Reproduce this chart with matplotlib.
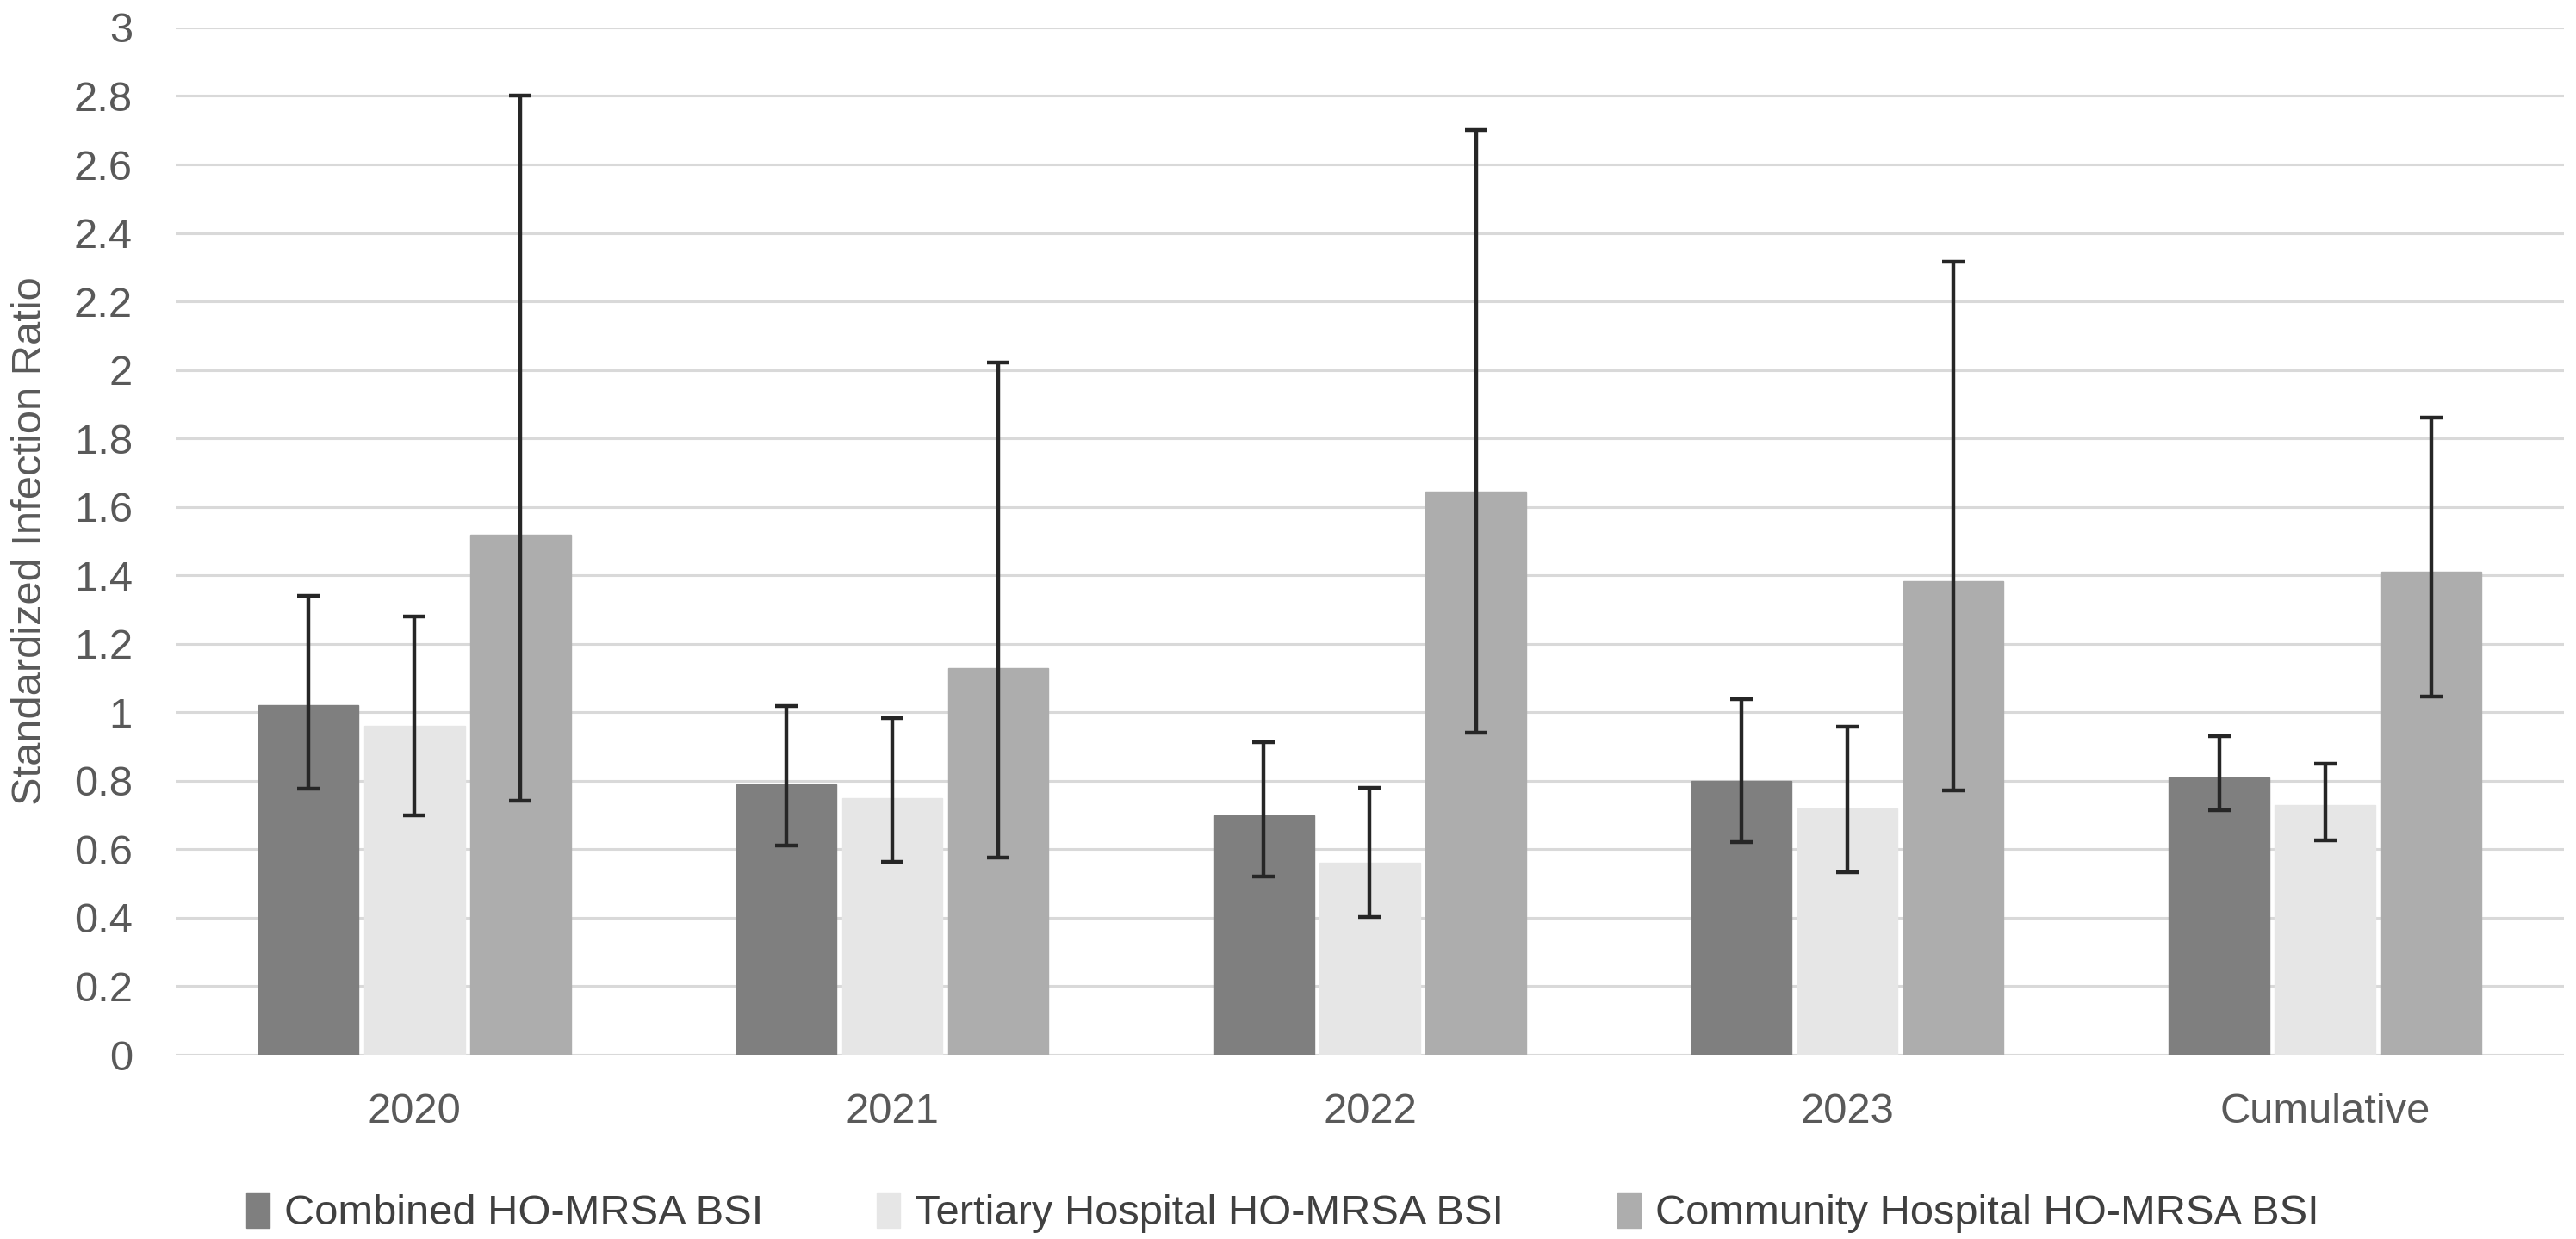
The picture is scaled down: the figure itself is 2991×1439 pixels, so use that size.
import numpy as np
import matplotlib
matplotlib.use("Agg")
import matplotlib.pyplot as plt

plt.rcParams['font.family'] = ['Liberation Sans', 'DejaVu Sans']

categories = ['2020', '2021', '2022', '2023', 'Cumulative']
series = ['Combined HO-MRSA BSI', 'Tertiary Hospital HO-MRSA BSI', 'Community Hospital HO-MRSA BSI']

combined = [1.02, 0.79, 0.70, 0.80, 0.81]
combined_lo = [0.776, 0.612, 0.52, 0.622, 0.713]
combined_hi = [1.34, 1.018, 0.912, 1.038, 0.93]

tertiary = [0.96, 0.75, 0.56, 0.72, 0.73]
tertiary_lo = [0.70, 0.563, 0.403, 0.533, 0.626]
tertiary_hi = [1.28, 0.982, 0.78, 0.959, 0.85]

community = [1.52, 1.13, 1.645, 1.384, 1.41]
community_lo = [0.743, 0.577, 0.94, 0.772, 1.045]
community_hi = [2.80, 2.022, 2.70, 2.315, 1.861]

colors = ['#7f7f7f', '#e6e6e6', '#adadad']
fs = 17.6

fig = plt.figure(figsize=(14.955, 7.195), dpi=200)
ax = fig.add_axes([0.0682, 0.1487, 0.9271, 0.8291])

x = np.arange(len(categories))
pitch = 0.222
width = 0.21
data = [(combined, combined_lo, combined_hi),
        (tertiary, tertiary_lo, tertiary_hi),
        (community, community_lo, community_hi)]

for i, (vals, lo, hi) in enumerate(data):
    vals = np.array(vals)
    err = [vals - np.array(lo), np.array(hi) - vals]
    ax.bar(x + (i - 1) * pitch, vals, width, color=colors[i], label=series[i],
           zorder=2, edgecolor=colors[i], linewidth=0.5)
    ax.errorbar(x + (i - 1) * pitch, vals, yerr=err, fmt='none', ecolor='#262626',
                elinewidth=1.6, capsize=4.7, capthick=1.6, zorder=3)

ax.set_xlim(-0.5, len(categories) - 0.5)
ax.set_ylim(0, 3)
ax.set_yticks(np.arange(0, 3.01, 0.2))
ax.set_yticklabels(['0', '0.2', '0.4', '0.6', '0.8', '1', '1.2', '1.4', '1.6', '1.8',
                    '2', '2.2', '2.4', '2.6', '2.8', '3'])
ax.set_xticks(x)
ax.set_xticklabels(categories)
ax.grid(axis='y', color='#d9d9d9', linewidth=1.1, zorder=0)
ax.set_axisbelow(True)
for s in ax.spines.values():
    s.set_visible(False)
ax.tick_params(axis='both', length=0, labelsize=fs, colors='#595959')
ax.tick_params(axis='y', pad=18)
ax.tick_params(axis='x', pad=16)
ax.set_ylabel('Standardized Infection Ratio', fontsize=fs, color='#595959', labelpad=10)

fig.legend(loc='center', bbox_to_anchor=(0.498, 0.021), ncol=3, frameon=False,
           fontsize=fs, handlelength=0.55, handleheight=0.9, handletextpad=0.35,
           columnspacing=2.7, labelcolor='#404040')

fig.savefig('out.png', dpi=200)
